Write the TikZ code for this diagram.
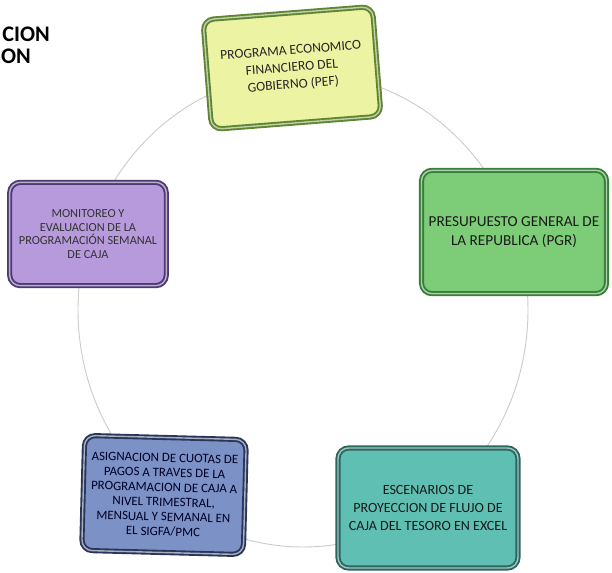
\documentclass[tikz,border=0pt]{standalone}
\usepackage{fontspec}
\setmainfont{Carlito}
\usepackage{tikz}
\usetikzlibrary{shapes,positioning,calc,shadows}
\definecolor{pefFill}{HTML}{ECF3A2}
\definecolor{pefLine}{HTML}{5F8530}
\definecolor{pgrFill}{HTML}{7DCD78}
\definecolor{pgrLine}{HTML}{367F37}
\definecolor{monFill}{HTML}{B69ADB}
\definecolor{monLine}{HTML}{4E3975}
\definecolor{asgFill}{HTML}{7C92C6}
\definecolor{asgLine}{HTML}{28365A}
\definecolor{escFill}{HTML}{5FBFB2}
\definecolor{escLine}{HTML}{2A6660}
\tikzset{
    stage/.style={
        rectangle,
        rounded corners=9pt,
        line width=1.6pt,
        double distance=1.2pt,
        align=center,
        inner sep=1pt,
        drop shadow={shadow xshift=1.5pt,shadow yshift=-1.5pt,opacity=0.35},
    },
    pef/.style={
        stage,
        draw=pefLine,
        double=pefLine!40,
        fill=pefFill,
        text=black!85,
        minimum width=51mm,
        minimum height=33mm,
        font=\fontsize{11.6}{14.6}\selectfont,
    },
    pgr/.style={
        stage,
        draw=pgrLine,
        double=pgrLine!40,
        fill=pgrFill,
        text=black!90,
        minimum width=55.5mm,
        minimum height=37mm,
        font=\fontsize{13}{16.5}\selectfont,
    },
    mon/.style={
        stage,
        draw=monLine,
        double=monLine!40,
        fill=monFill,
        text=black!80,
        minimum width=47mm,
        minimum height=31mm,
        font=\fontsize{10.5}{11.8}\selectfont,
    },
    asg/.style={
        stage,
        draw=asgLine,
        double=asgLine!40,
        fill=asgFill,
        text=black!85!blue,
        minimum width=48.5mm,
        minimum height=34.5mm,
        font=\fontsize{11}{12.6}\selectfont,
    },
    esc/.style={
        stage,
        draw=escLine,
        double=escLine!40,
        fill=escFill,
        text=black!90,
        minimum width=54mm,
        minimum height=36mm,
        font=\fontsize{12}{15.5}\selectfont,
    },
    ring/.style={
        draw=gray!40,
        line width=0.8pt,
    },
    heading/.style={
        anchor=east,
        inner sep=0pt,
        font=\fontsize{19}{20}\selectfont\bfseries,
    },
}

\begin{document}
\begin{tikzpicture}[x=0.3mm,y=-0.3mm]
    \useasboundingbox (0,0) rectangle (612,573);
    % ring behind the stages
    \coordinate (C) at (303,310);
    \draw[ring] (C) ellipse [x radius=67.5mm, y radius=71.1mm];
    % stages of the cycle
    \node [pef, rotate=4.5] (PEF) at (292,68) {PROGRAMA ECONOMICO\\FINANCIERO DEL\\GOBIERNO (PEF)};
    \node [pgr] (PGR) at (514,232) {PRESUPUESTO GENERAL DE\\LA REPUBLICA (PGR)};
    \node [esc] (ESC) at (428,508) {ESCENARIOS DE\\PROYECCION DE FLUJO DE\\CAJA DEL TESORO EN EXCEL};
    \node [asg, rotate=-1.5] (ASG) at (164,495) {ASIGNACION DE CUOTAS DE\\PAGOS A TRAVES DE LA\\PROGRAMACION DE CAJA A\\NIVEL TRIMESTRAL,\\MENSUAL Y SEMANAL EN\\EL SIGFA/PMC};
    \node [mon] (MON) at (88,234) {MONITOREO Y\\EVALUACION DE LA\\PROGRAMACIÓN SEMANAL\\DE CAJA};
    % clipped title
    \node [heading] (T1) at (50,34) {CION};
    \node [heading] (T2) at (31,56) {ON};
\end{tikzpicture}
\end{document}
